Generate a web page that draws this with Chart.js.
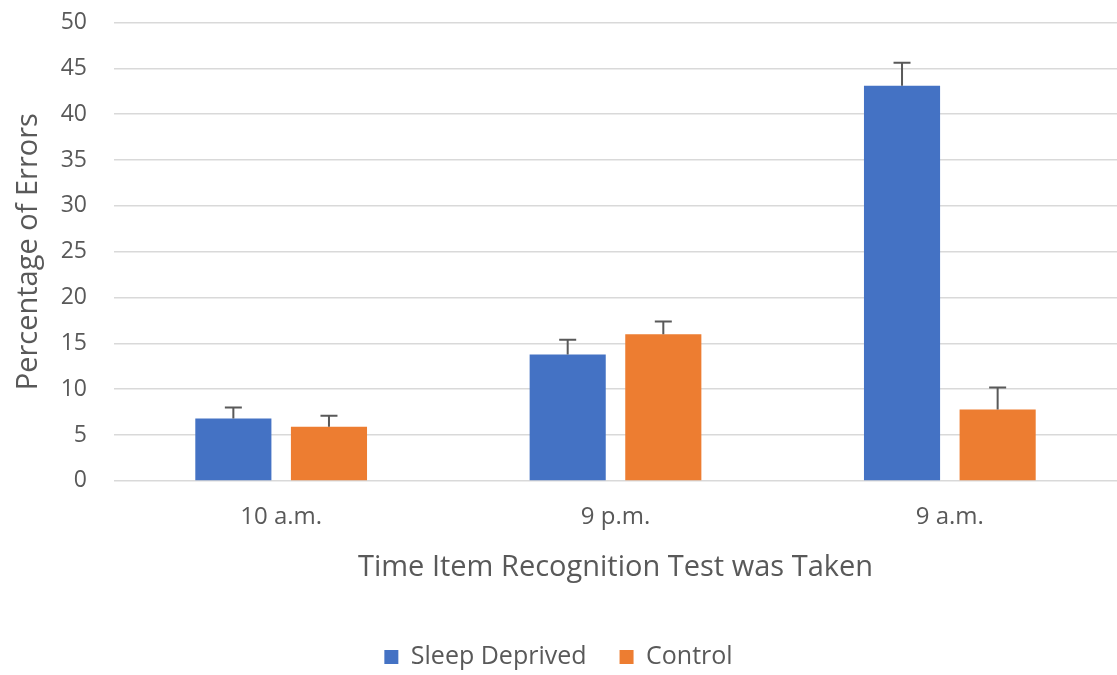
<!DOCTYPE html>
<html lang="en">
<head>
  <meta charset="UTF-8" />
  <title>Percentage of Errors</title>
  <script src="https://cdn.jsdelivr.net/npm/chart.js"></script>
  <style>
    html, body { margin: 0; padding: 0; background: #fff; }
    #wrap { width: 1117px; height: 675px; }
  </style>
</head>
<body>
  <div id="wrap"><canvas id="chart"></canvas></div>
  <script>
    const categories = ['10 a.m.', '9 p.m.', '9 a.m.'];
    const sleepDeprived = [6.8, 13.8, 43.1];
    const sleepDeprivedErr = [1.2, 1.6, 2.5];
    const control = [5.9, 16.0, 7.8];
    const controlErr = [1.2, 1.4, 2.4];

    const FONT = '"Open Sans", "Noto Sans", sans-serif';
    const GREY = '#595959';

    // upper-only error bars with a cap, like the original spreadsheet chart
    const errorBars = {
      id: 'errorBars',
      afterDatasetsDraw(chart) {
        const ctx = chart.ctx;
        const y = chart.scales.y;
        chart.data.datasets.forEach((ds, i) => {
          const meta = chart.getDatasetMeta(i);
          meta.data.forEach((bar, j) => {
            const top = y.getPixelForValue(ds.data[j] + ds.errors[j]);
            ctx.save();
            ctx.strokeStyle = GREY;
            ctx.lineWidth = 2;
            ctx.beginPath();
            ctx.moveTo(bar.x, bar.y);
            ctx.lineTo(bar.x, top);
            ctx.moveTo(bar.x - 8.5, top);
            ctx.lineTo(bar.x + 8.5, top);
            ctx.stroke();
            ctx.restore();
          });
        });
      }
    };

    new Chart(document.getElementById('chart'), {
      type: 'bar',
      data: {
        labels: categories,
        datasets: [
          { label: 'Sleep Deprived', data: sleepDeprived, errors: sleepDeprivedErr, backgroundColor: '#4472C4' },
          { label: 'Control', data: control, errors: controlErr, backgroundColor: '#ED7D31' }
        ]
      },
      options: {
        responsive: true,
        maintainAspectRatio: false,
        animation: false,
        categoryPercentage: 0.572,
        barPercentage: 0.796,
        layout: { padding: 0 },
        plugins: {
          tooltip: { enabled: false },
          legend: {
            position: 'bottom',
            maxHeight: 63.5, // wide gap between items, but keep the row low
            labels: {
              boxWidth: 14, boxHeight: 14, padding: 33,
              color: GREY, font: { family: FONT, size: 25 }
            }
          }
        },
        scales: {
          x: {
            grid: { display: false, drawTicks: false },
            border: { display: false },
            ticks: { color: GREY, font: { family: FONT, size: 24 }, padding: 22 },
            title: {
              display: true, text: 'Time Item Recognition Test was Taken',
              color: GREY, font: { family: FONT, size: 29 }, padding: { top: -3, bottom: 26 }
            }
          },
          y: {
            min: 0, max: 50,
            afterFit(scale) {
              scale.width = 114;
              scale.paddingTop = 22.5;
            },
            ticks: { stepSize: 5, color: GREY, font: { family: FONT, size: 23 }, padding: 27 },
            grid: { color: '#d9d9d9', lineWidth: 1.5, drawTicks: false },
            border: { display: false },
            title: {
              display: true, text: 'Percentage of Errors',
              color: GREY, font: { family: FONT, size: 29 }, padding: { top: 11, bottom: 15 }
            }
          }
        }
      },
      plugins: [errorBars]
    });
  </script>
</body>
</html>
